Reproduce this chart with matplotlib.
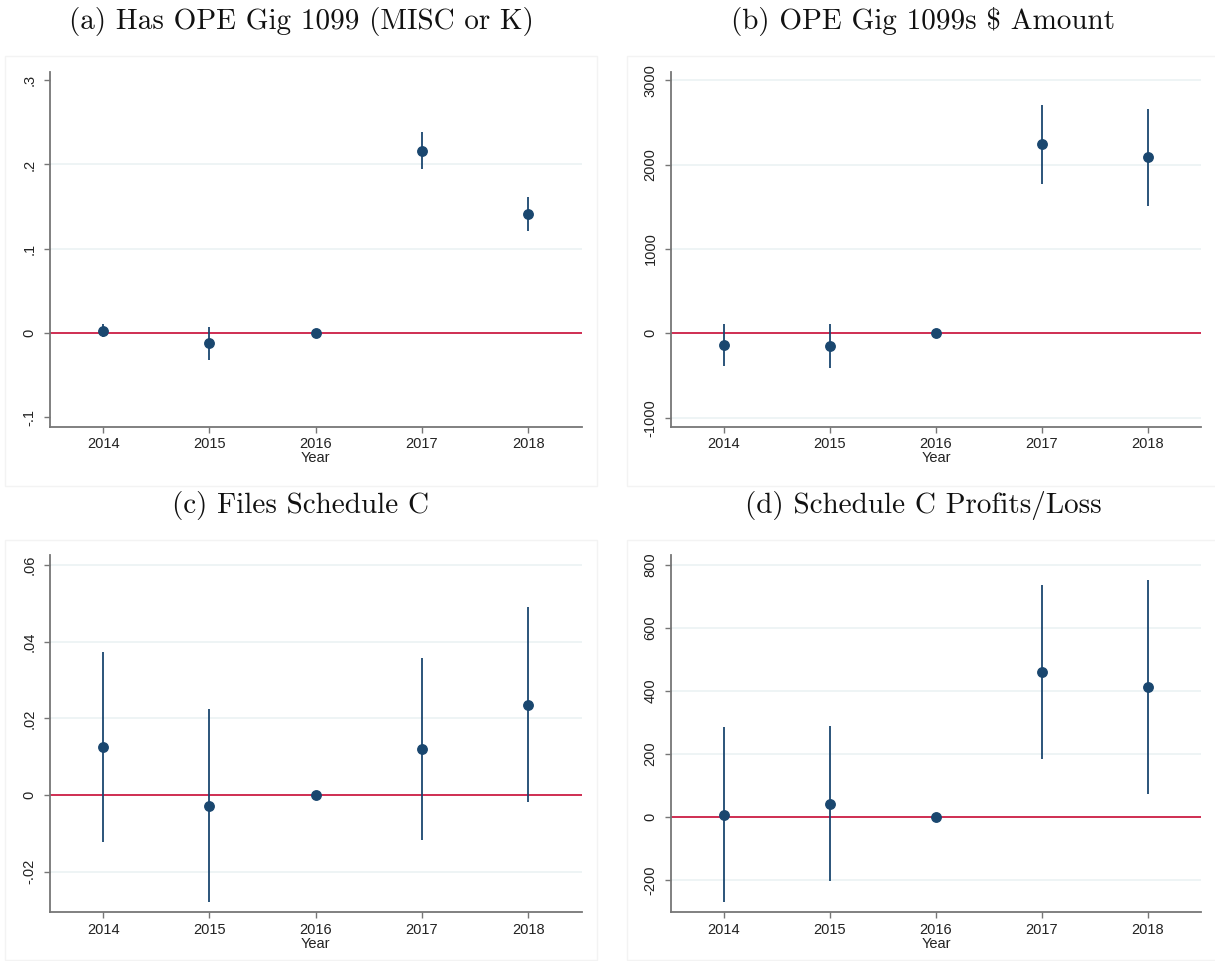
import matplotlib
matplotlib.use("Agg")
import matplotlib.pyplot as plt
from matplotlib.patches import Rectangle
import numpy as np

plt.rcParams['font.family'] = ['Liberation Sans', 'DejaVu Sans']

years = [2014, 2015, 2016, 2017, 2018]

titles = ["(a) Has OPE Gig 1099 (MISC or K)",
          r"(b) OPE Gig 1099s \$ Amount",
          "(c) Files Schedule C",
          "(d) Schedule C Profits/Loss"]

# panel (a)
est_a = [0.003, -0.012, 0.0, 0.216, 0.141]
lo_a = [-0.005, -0.032, 0.0, 0.1945, 0.121]
hi_a = [0.011, 0.007, 0.0, 0.238, 0.161]
ticks_a = [-0.1, 0.0, 0.1, 0.2, 0.3]
ticklabels_a = ["-.1", "0", ".1", ".2", ".3"]
grid_a = [0.1, 0.2]
ylim_a = (-0.111, 0.310)

# panel (b)
est_b = [-138, -146, 0, 2241, 2087]
lo_b = [-383, -407, 0, 1775, 1514]
hi_b = [107, 111, 0, 2708, 2660]
ticks_b = [-1000, 0, 1000, 2000, 3000]
ticklabels_b = ["-1000", "0", "1000", "2000", "3000"]
grid_b = [-1000, 1000, 2000, 3000]
ylim_b = (-1107, 3103)

# panel (c)
est_c = [0.0124, -0.0029, 0.0, 0.0119, 0.0236]
lo_c = [-0.0123, -0.0280, 0.0, -0.0118, -0.0018]
hi_c = [0.0373, 0.0223, 0.0, 0.0357, 0.0490]
ticks_c = [-0.02, 0.0, 0.02, 0.04, 0.06]
ticklabels_c = ["-.02", "0", ".02", ".04", ".06"]
grid_c = [-0.02, 0.02, 0.04, 0.06]
ylim_c = (-0.0306, 0.0626)

# panel (d)
est_d = [7, 42, 0, 461, 413]
lo_d = [-271, -204, 0, 185, 72]
hi_d = [287, 289, 0, 738, 752]
ticks_d = [-200, 0, 200, 400, 600, 800]
ticklabels_d = ["-200", "0", "200", "400", "600", "800"]
grid_d = [-200, 200, 400, 600, 800]
ylim_d = (-303, 832)

panels = [
    (est_a, lo_a, hi_a, ticks_a, ticklabels_a, grid_a, ylim_a),
    (est_b, lo_b, hi_b, ticks_b, ticklabels_b, grid_b, ylim_b),
    (est_c, lo_c, hi_c, ticks_c, ticklabels_c, grid_c, ylim_c),
    (est_d, lo_d, hi_d, ticks_d, ticklabels_d, grid_d, ylim_d),
]

W, H = 1215, 961
fig = plt.figure(figsize=(W / 100, H / 100), dpi=100)

# axes boxes in pixels: left, right, top, bottom
ax_px = [(50, 581.5, 71.7, 426.7), (670.8, 1201, 71.7, 426.7),
         (50, 581.5, 555, 912.3), (670.8, 1201, 555, 912.3)]
# panel boxes: left, right, top, bottom
box_px = [(5, 597, 56, 485.5), (627, 1219, 56, 485.5),
          (5, 597, 540, 960), (627, 1219, 540, 960)]
title_y = [21, 21, 506, 506]

navy = '#1a476f'
red = '#cf2d52'
spine_col = '#767676'

for i, (est, lo, hi, ticks, tl, grid, ylim) in enumerate(panels):
    l, r, t, b = ax_px[i]
    bl, br, bt, bb = box_px[i]
    fig.patches.append(Rectangle((bl / W, 1 - bb / H), (br - bl) / W, (bb - bt) / H,
                                 transform=fig.transFigure, fill=False,
                                 edgecolor='#f3f3f3', linewidth=1.0, zorder=0))
    fig.text(((bl + br) / 2) / W, 1 - title_y[i] / H, titles[i],
             family='cmr10', fontsize=21, ha='center', va='center', color='#111111')
    ax = fig.add_axes([l / W, 1 - b / H, (r - l) / W, (b - t) / H])
    for g in grid:
        ax.axhline(g, color='#eaf1f2', lw=1.1, zorder=0)
    ax.axhline(0, color=red, lw=1.4, zorder=1)
    est = np.array(est); lo = np.array(lo); hi = np.array(hi)
    ax.vlines(years, lo, hi, color=navy, lw=1.3, zorder=2)
    ax.plot(years, est, 'o', color=navy, ms=6.8, zorder=3)
    ax.set_xlim(2013.5, 2018.5)
    ax.set_ylim(*ylim)
    ax.set_xticks(years)
    ax.set_xticklabels([str(y) for y in years])
    ax.set_yticks(ticks)
    ax.set_yticklabels(tl, rotation=90, va='center')
    for s in ['top', 'right']:
        ax.spines[s].set_visible(False)
    for s in ['left', 'bottom']:
        ax.spines[s].set_color(spine_col)
        ax.spines[s].set_linewidth(1.3)
    ax.tick_params(axis='both', colors=spine_col, labelcolor='#222222',
                   labelsize=10.5, length=4.5, width=1.0)
    ax.tick_params(axis='y', pad=5)
    ax.tick_params(axis='x', pad=3)
    ax.set_xlabel("Year", fontsize=10.5, color='#222222', labelpad=0)

fig.savefig("out.png", dpi=100)
